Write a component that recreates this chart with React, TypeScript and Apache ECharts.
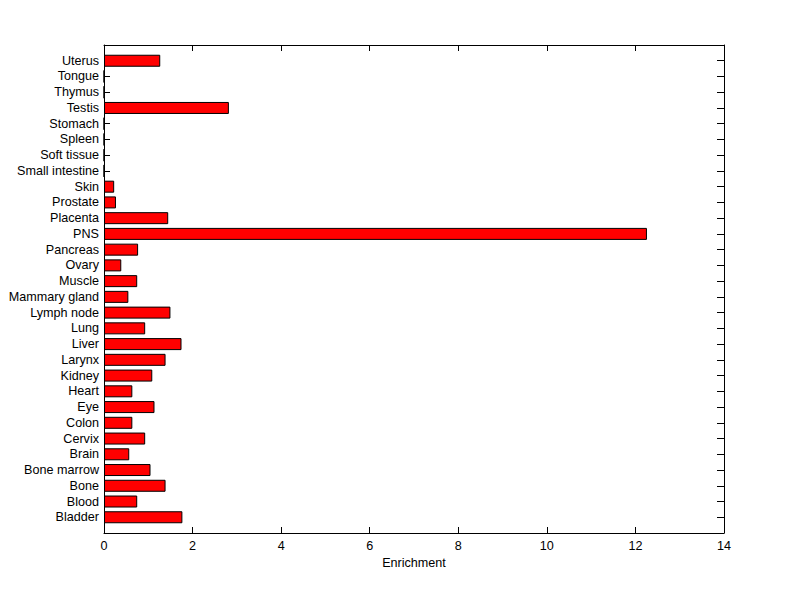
import React, { useEffect, useRef } from "react";
import * as echarts from "echarts";

const categories = [
  "Bladder", "Blood", "Bone", "Bone marrow", "Brain", "Cervix", "Colon", "Eye",
  "Heart", "Kidney", "Larynx", "Liver", "Lung", "Lymph node", "Mammary gland",
  "Muscle", "Ovary", "Pancreas", "PNS", "Placenta", "Prostate", "Skin",
  "Small intestine", "Soft tissue", "Spleen", "Stomach", "Testis", "Thymus",
  "Tongue", "Uterus",
];
const enrichment = [
  1.77, 0.75, 1.39, 1.05, 0.57, 0.93, 0.64, 1.14,
  0.64, 1.09, 1.39, 1.75, 0.93, 1.5, 0.55,
  0.75, 0.39, 0.77, 12.26, 1.45, 0.27, 0.23,
  0, 0, 0, 0, 2.82, 0,
  0, 1.27,
];
const xTicks = [0, 2, 4, 6, 8, 10, 12, 14];

export default function App() {
  const ref = useRef<HTMLDivElement>(null);
  useEffect(() => {
    if (!ref.current) return;
    const chart = echarts.init(ref.current, null, { renderer: "svg" });
    const cats = ["", ...categories, ""];
    const data = ["-", ...enrichment, "-"];
    const font = { fontFamily: "Liberation Sans, Arial, sans-serif", fontSize: 12.6, color: "#000" };
    const line = { lineStyle: { color: "#000", width: 1 } };
    chart.setOption({
      animation: false,
      backgroundColor: "#fff",
      grid: { left: 104, right: 76, top: 45, bottom: 66, containLabel: false },
      xAxis: [
        {
          type: "value",
          min: xTicks[0],
          max: xTicks[xTicks.length - 1],
          interval: 2,
          position: "bottom",
          name: "Enrichment",
          nameLocation: "middle",
          nameGap: 23,
          nameTextStyle: font,
          axisLine: { show: true, onZero: false, ...line },
          axisTick: { show: true, inside: true, length: 6, ...line },
          axisLabel: { ...font, margin: 6 },
          splitLine: { show: false },
        },
        {
          type: "value",
          min: xTicks[0],
          max: xTicks[xTicks.length - 1],
          interval: 2,
          position: "top",
          axisLine: { show: true, onZero: false, ...line },
          axisTick: { show: true, inside: true, length: 6, ...line },
          axisLabel: { show: false },
          splitLine: { show: false },
        },
      ],
      yAxis: [
        {
          type: "category",
          data: cats,
          boundaryGap: false,
          position: "left",
          axisLine: { show: true, onZero: false, ...line },
          axisTick: { show: true, inside: true, length: 6, interval: 0, ...line },
          axisLabel: { ...font, margin: 5, interval: 0 },
        },
        {
          type: "category",
          data: cats,
          boundaryGap: false,
          position: "right",
          axisLine: { show: true, onZero: false, ...line },
          axisTick: { show: true, inside: true, length: 7, interval: 0, ...line },
          axisLabel: { show: false },
        },
      ],
      series: [
        {
          type: "bar",
          xAxisIndex: 0,
          yAxisIndex: 0,
          data,
          barWidth: 12,
          itemStyle: { color: "#ff0000", borderColor: "#000", borderWidth: 1 },
        },
      ],
    });
    return () => chart.dispose();
  }, []);
  return <div ref={ref} style={{ width: 800, height: 599, margin: -8 }} />;
}
